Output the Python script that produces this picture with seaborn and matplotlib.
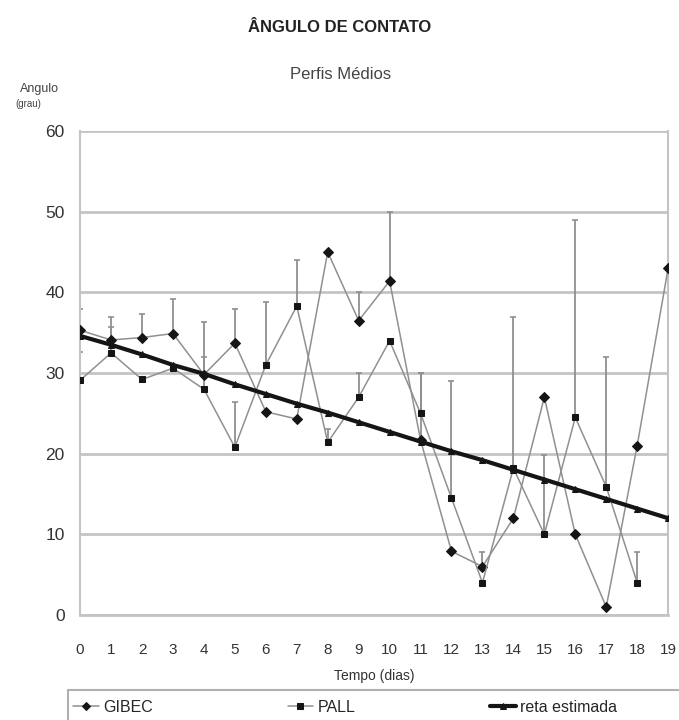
import numpy as np
import pandas as pd
import matplotlib
matplotlib.use("Agg")
import matplotlib.pyplot as plt
from matplotlib.patches import Rectangle
import seaborn as sns

dias = list(range(20))
gibec = [35.3, 34.1, 34.4, 34.9, 29.8, 33.7, 25.2, 24.3, 45.0, 36.5,
         41.4, 21.7, 7.9, 6.0, 12.0, 27.0, 10.0, 1.0, 21.0, 43.0]
gibec_err = [2.6, 2.8, 2.9, 4.3, 6.5, 4.3, np.nan, np.nan, np.nan, 3.5,
             8.6, 8.3, np.nan, 1.8, np.nan, np.nan, np.nan, np.nan, np.nan, np.nan]
pall = [29.1, 32.5, 29.2, 30.6, 28.0, 20.8, 31.0, 38.3, 21.4, 27.0,
        34.0, 25.0, 14.5, 4.0, 18.2, 10.0, 24.5, 15.9, 4.0, np.nan]
pall_err = [3.5, 3.2, np.nan, np.nan, 4.0, 5.6, 7.8, 5.7, 1.6, 3.0,
            np.nan, 5.0, 14.5, np.nan, 18.8, 9.8, 24.5, 16.1, 3.8, np.nan]
reta = [34.6, 33.5, 32.3, 31.0, 29.9, 28.6, 27.4, 26.2, 25.1, 23.9,
        22.7, 21.5, 20.3, 19.2, 18.0, 16.8, 15.6, 14.4, 13.2, 12.0]

sns.set_style("white")
plt.rcParams['font.family'] = ['Liberation Sans', 'DejaVu Sans']

fig = plt.figure(figsize=(6.79, 7.2), dpi=100)
ax = fig.add_axes([0.118, 0.1458, 0.866, 0.6722])

df = pd.DataFrame({"dia": dias, "GIBEC": gibec, "PALL": pall, "reta estimada": reta})

gray = "#909090"
# error bars (upper only)
for vals, errs in [(gibec, gibec_err), (pall, pall_err)]:
    v = np.array(vals, dtype=float)
    e = np.array(errs, dtype=float)
    m = ~np.isnan(e)
    ax.errorbar(np.array(dias)[m], v[m], yerr=[np.zeros(m.sum()), e[m]],
                fmt="none", ecolor=gray, elinewidth=1.3, capsize=2, capthick=1.2, zorder=2)

sns.lineplot(data=df, x="dia", y="GIBEC", ax=ax, color=gray, linewidth=1.1,
             marker="D", markersize=5, markerfacecolor="#151515", markeredgecolor="#151515",
             label="GIBEC", zorder=3)
sns.lineplot(data=df, x="dia", y="PALL", ax=ax, color=gray, linewidth=1.1,
             marker="s", markersize=4.2, markerfacecolor="#151515", markeredgecolor="#151515",
             label="PALL", zorder=3)
sns.lineplot(data=df, x="dia", y="reta estimada", ax=ax, color="#151515", linewidth=3,
             marker="^", markersize=5, markerfacecolor="#151515", markeredgecolor="#151515",
             label="reta estimada", zorder=4)

ax.set_xlim(0, 19)
ax.set_ylim(0, 60)
ax.set_xticks(dias)
ax.set_yticks(range(0, 61, 10))
ax.tick_params(axis="x", labelsize=11, colors="#333333", length=5, width=1, direction="out",
               color="#b0b0b0", pad=15)
ax.tick_params(axis="y", labelsize=12.5, colors="#333333", length=5, width=1, direction="out",
               color="#b0b0b0", pad=6)
ax.yaxis.grid(True, color="#c4c4c4", linewidth=2)
ax.xaxis.grid(False)
for s in ["left", "right"]:
    ax.spines[s].set_color("#c4c4c4")
    ax.spines[s].set_linewidth(1.5)
ax.spines["top"].set_visible(False)
ax.spines["bottom"].set_color("#c4c4c4")
ax.spines["bottom"].set_linewidth(2)
ax.set_xlabel("Tempo (dias)", fontsize=10, color="#333333", labelpad=9)
ax.set_ylabel("")

fig.text(0.5, 0.962, "ÂNGULO DE CONTATO", ha="center", va="center", fontsize=12,
         fontweight="bold", color="#222222")
fig.text(0.502, 0.896, "Perfis Médios", ha="center", va="center", fontsize=12, color="#444444")
fig.text(0.03, 0.877, "Angulo", ha="left", va="center", fontsize=9, color="#444444")
fig.text(0.022, 0.855, "(grau)", ha="left", va="center", fontsize=7, color="#444444")

if ax.get_legend():
    ax.get_legend().remove()
handles, labels = ax.get_legend_handles_labels()
leg = fig.legend(handles, labels, loc="center left", ncol=3,
                 bbox_to_anchor=(0.108, 0.018), fontsize=11.5, frameon=False,
                 handlelength=1.6, handletextpad=0.3, columnspacing=8.4,
                 borderaxespad=0, borderpad=0, markerscale=0.9)
fig.patches.append(Rectangle((0.1, -0.01), 0.95, 0.052, transform=fig.transFigure,
                             fill=False, edgecolor="#b0b0b0", linewidth=1.5))

fig.savefig("out.png", dpi=100)
